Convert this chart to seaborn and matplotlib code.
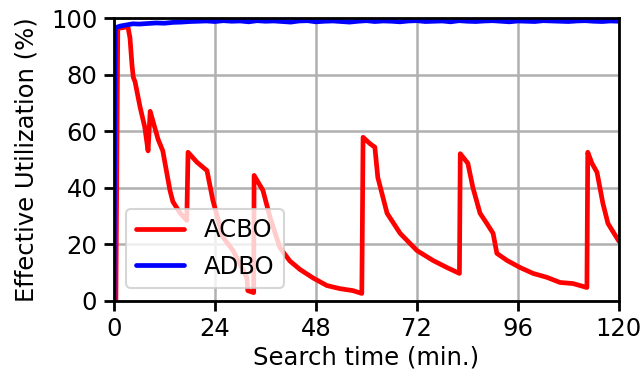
import numpy as np
import pandas as pd
import matplotlib
matplotlib.use("Agg")
import matplotlib.pyplot as plt
import seaborn as sns

# ACBO effective utilization over the search (minutes, percent)
acbo_time = [0.0, 0.45, 0.9, 2.0, 3.3, 3.8, 4.3, 4.6, 5.0, 6.2, 7.3, 8.1,
             8.6, 10.5, 11.6, 13.3, 14.0, 15.7, 17.3,
             17.6, 19.7, 22.1, 23.5, 25.9, 28.3, 31.6, 31.8, 33.2,
             33.3, 35.4, 37.1, 39.4, 41.8, 44.2, 47.3, 50.6, 53.7, 56.8, 58.9,
             59.2, 60.8, 62.0, 62.7, 64.9, 68.0, 72.0, 75.8, 79.1, 82.1,
             82.3, 84.1, 85.3, 87.0, 88.6, 90.1, 91.0, 93.4, 96.5, 99.6,
             102.9, 106.0, 109.1, 112.4,
             112.6, 113.6, 114.8, 116.2, 117.4, 120.0]
acbo_util = [0.0, 0.0, 96.4, 96.6, 97.0, 93.0, 83.0, 79.0, 77.5, 68.5, 61.5, 53.0,
             67.0, 57.0, 53.0, 39.0, 35.0, 31.0, 28.4,
             52.5, 49.0, 46.0, 35.5, 22.4, 17.7, 8.0, 3.5, 2.8,
             44.3, 39.0, 29.4, 18.8, 14.0, 11.0, 8.0, 5.3, 4.2, 3.5, 2.5,
             57.8, 55.6, 54.3, 43.6, 30.9, 23.8, 17.7, 14.2, 11.7, 9.6,
             52.0, 48.6, 40.0, 30.9, 27.3, 23.8, 16.7, 14.2, 11.7, 9.6,
             8.2, 6.4, 6.0, 4.6,
             52.5, 48.6, 45.4, 34.4, 27.3, 21.0]

# ADBO effective utilization over the search (minutes, percent)
adbo_time = [0.0, 0.3, 1.5, 3.0, 4.5, 6.0, 8.0, 10.0, 12.0, 14.0, 16.0, 18.0,
             20.0, 22.0, 24.0, 26.0, 28.0, 30.0, 32.0, 34.0, 36.0, 38.0,
             40.0, 42.0, 44.0, 46.0, 48.0, 50.0, 52.0, 54.0, 56.0, 58.0,
             60.0, 62.0, 64.0, 66.0, 68.0, 70.0, 72.0, 74.0, 76.0, 78.0,
             80.0, 82.0, 84.0, 86.0, 88.0, 90.0, 92.0, 94.0, 96.0, 98.0,
             100.0, 102.0, 104.0, 106.0, 108.0, 110.0, 112.0, 114.0, 116.0,
             118.0, 120.0]
adbo_util = [0.0, 96.6, 97.2, 97.6, 98.0, 97.9, 98.1, 98.3, 98.2, 98.5, 98.6, 98.8,
             98.9, 99.0, 98.8, 99.1, 98.9, 99.0, 98.7, 99.1, 98.9, 99.0,
             98.8, 98.6, 99.0, 99.1, 98.7, 98.9, 99.0, 98.8, 98.6, 98.9,
             99.1, 98.8, 99.0, 98.9, 98.7, 99.0, 99.1, 98.8, 98.9, 99.0,
             98.7, 99.1, 98.9, 98.8, 99.0, 99.1, 98.9, 98.7, 99.0, 98.9,
             98.8, 99.1, 99.0, 98.9, 98.8, 99.0, 99.1, 98.9, 98.8,
             99.0, 98.9]

x_ticks = [0, 24, 48, 72, 96, 120]
y_ticks = [0, 20, 40, 60, 80, 100]

df = pd.concat([
    pd.DataFrame({"time": acbo_time, "util": acbo_util, "method": "ACBO"}),
    pd.DataFrame({"time": adbo_time, "util": adbo_util, "method": "ADBO"}),
], ignore_index=True)

sns.set_style("white")
plt.rcParams["font.family"] = ["DejaVu Sans"]
plt.rcParams["font.size"] = 17.5
plt.rcParams["text.color"] = "black"
plt.rcParams["axes.labelcolor"] = "black"
plt.rcParams["xtick.color"] = "black"
plt.rcParams["ytick.color"] = "black"

fig = plt.figure(figsize=(6.44, 3.78), dpi=100)
ax = fig.add_axes([0.177, 0.205, 0.784, 0.747])

sns.lineplot(data=df, x="time", y="util", hue="method",
             palette={"ACBO": "#ff0000", "ADBO": "#0000ff"},
             linewidth=3.4, estimator=None, sort=False, ax=ax)

ax.set_xlim(0, 120)
ax.set_ylim(0, 100)
ax.set_xticks(x_ticks)
ax.set_yticks(y_ticks)
ax.grid(True, color="#b0b0b0", linewidth=1.8)
ax.set_axisbelow(True)
for s in ax.spines.values():
    s.set_color("black")
    s.set_linewidth(2.0)
ax.tick_params(axis="both", labelsize=17.5, length=7, width=2.0,
               direction="out", bottom=True, left=True, pad=5,
               colors="black")
ax.set_xlabel("Search time (min.)", fontsize=17.5, labelpad=3)
ax.set_ylabel("Effective Utilization (%)", fontsize=17.5, labelpad=9)

leg = ax.legend(loc="lower left", fontsize=17.5, frameon=True,
                handlelength=2.0, borderaxespad=0.5)
leg.get_frame().set_edgecolor("#cccccc")
leg.get_frame().set_linewidth(1.5)
for line in leg.get_lines():
    line.set_linewidth(3.4)

fig.savefig("out.png", dpi=100)
